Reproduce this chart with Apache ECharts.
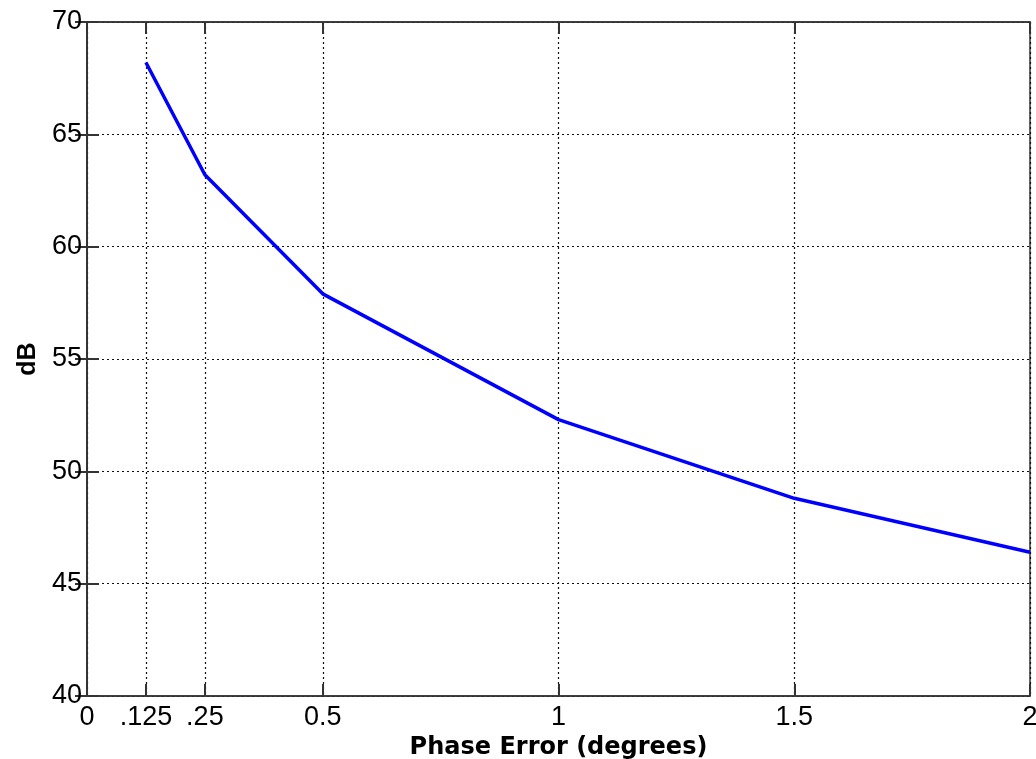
<!DOCTYPE html>
<html>
<head>
<meta charset="utf-8">
<script src="https://cdn.jsdelivr.net/npm/echarts@6/dist/echarts.min.js"></script>
<style>
  html, body { margin: 0; padding: 0; background: #fff; }
  #chart { width: 1036px; height: 759px; }
</style>
</head>
<body>
<div id="chart"></div>
<script>
// data
const xTicks = [0, 0.125, 0.25, 0.5, 1, 1.5, 2];
const xTickLabels = ['0', '.125', '.25', '0.5', '1', '1.5', '2'];
const phaseError = [0.125, 0.25, 0.5, 1, 1.5, 2];
const dB = [68.2, 63.2, 57.9, 52.3, 48.8, 46.4];

const font = "'Liberation Sans', Arial, sans-serif";
const axisColor = '#333';

const chart = echarts.init(document.getElementById('chart'));

const labelFor = v => {
  const i = xTicks.indexOf(v);
  return i >= 0 ? xTickLabels[i] : '';
};

const option = {
  animation: false,
  backgroundColor: '#fff',
  grid: {
    left: 87, right: 6, top: 22, bottom: 63,
    outerBoundsMode: 'none',
    show: true, borderColor: axisColor, borderWidth: 1.5
  },
  xAxis: [
    {
      type: 'value',
      min: 0,
      max: 2,
      name: 'Phase Error (degrees)',
      nameLocation: 'middle',
      nameGap: 33,
      nameTextStyle: {color: '#000', fontSize: 24, fontWeight: 'bold', fontFamily: "'DejaVu Sans', sans-serif"},
      axisLine: {show: true, lineStyle: {color: axisColor, width: 1.5}},
      axisTick: {show: true, inside: true, length: 12, customValues: xTicks, lineStyle: {color: axisColor, width: 2}},
      axisLabel: {customValues: xTicks, formatter: labelFor, color: '#000', fontSize: 27, fontFamily: font, margin: 8},
      splitLine: {show: true, lineStyle: {color: '#111', type: [2, 3], width: 1.2}}
    },
    {
      type: 'value',
      position: 'top',
      min: 0,
      max: 2,
      axisLine: {show: true, lineStyle: {color: axisColor, width: 1.5}},
      axisTick: {show: true, inside: true, length: 12, customValues: xTicks, lineStyle: {color: axisColor, width: 2}},
      axisLabel: {show: false},
      splitLine: {show: false}
    }
  ],
  yAxis: [
    {
      type: 'value',
      min: 40,
      max: 70,
      interval: 5,
      name: 'dB',
      nameLocation: 'middle',
      nameGap: 44,
      nameTextStyle: {color: '#000', fontSize: 25, fontWeight: 'bold', fontFamily: font},
      axisLine: {show: true, lineStyle: {color: axisColor, width: 1.5}},
      axisTick: {show: true, inside: true, length: 12, lineStyle: {color: axisColor, width: 2}},
      axisLabel: {color: '#000', fontSize: 27, fontFamily: font, margin: 5},
      splitLine: {show: true, lineStyle: {color: '#111', type: [2, 3], width: 1.2}}
    },
    {
      type: 'value',
      position: 'right',
      min: 40,
      max: 70,
      interval: 5,
      axisLine: {show: true, lineStyle: {color: axisColor, width: 1.5}},
      axisTick: {show: true, inside: true, length: 12, lineStyle: {color: axisColor, width: 2}},
      axisLabel: {show: false},
      splitLine: {show: false}
    }
  ],
  series: [
    {
      type: 'line',
      data: phaseError.map((x, i) => [x, dB[i]]),
      showSymbol: false,
      lineStyle: {color: '#0000ff', width: 3.5},
      z: 5
    }
  ]
};

chart.setOption(option);
</script>
</body>
</html>
